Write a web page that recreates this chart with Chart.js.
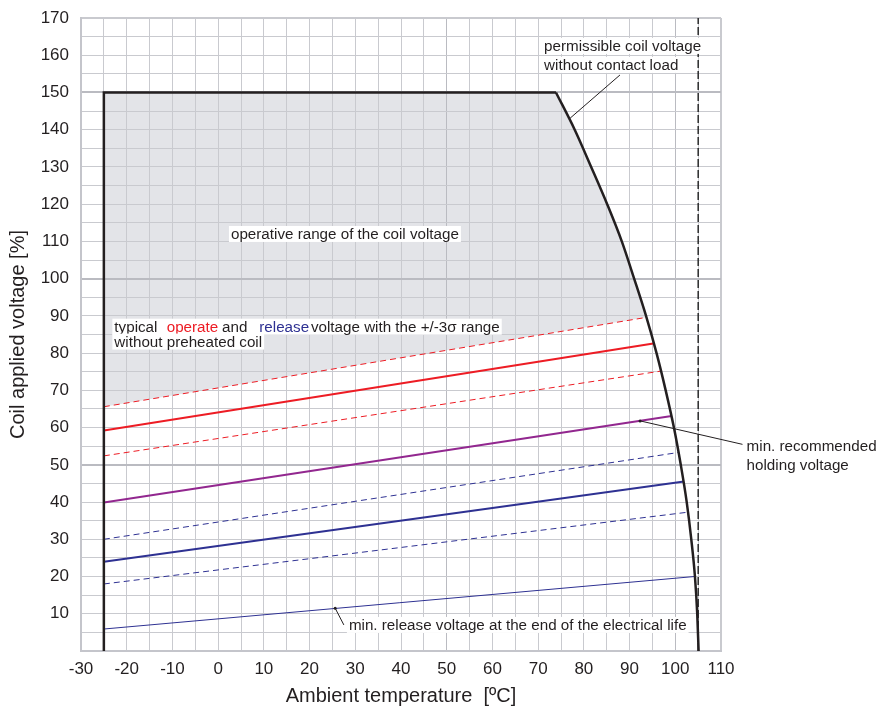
<!DOCTYPE html>
<html>
<head>
<meta charset="utf-8">
<script src="https://cdn.jsdelivr.net/npm/chart.js@4.4.1/dist/chart.umd.min.js"></script>
<style>
  html, body { margin: 0; padding: 0; background: #fff; }
</style>
</head>
<body>
<canvas id="coilChart" width="881" height="711"></canvas>
<script>
// values (x = ambient temp in C, y = coil voltage in %)
const envelopeStart = [[-25, 0], [-25, 150], [73.9, 150]];
const permissibleCurve = [
  [73.9, 150], [78.0, 140], [81.6, 130], [85.1, 120], [88.3, 110], [91.0, 100],
  [93.6, 90], [95.9, 80], [97.9, 70], [99.7, 60], [101.2, 50], [102.5, 40],
  [103.5, 30], [104.3, 20], [104.8, 10], [105.1, 0]
];
const operateUpper = [[-25, 65.6], [93.7, 89.6]];
const operateTyp = [[-25, 59.2], [95.2, 82.6]];
const operateLower = [[-25, 52.4], [97.0, 75.2]];
const holdingMin = [[-25, 39.9], [99.2, 63.1]];
const releaseUpper = [[-25, 30.0], [100.6, 53.3]];
const releaseTyp = [[-25, 24.0], [101.9, 45.5]];
const releaseLower = [[-25, 18.0], [102.9, 37.3]];
const releaseEndOfLife = [[-25, 5.9], [104.2, 20.0]];
const maxTemp = [[105, 0], [105, 170]];

// leader lines for the notes
const leaderPermissible = [[87.9, 154.7], [77.0, 143.1]];
const leaderHolding = [[92.3, 61.8], [114.7, 55.5]];
const leaderEndOfLife = [[25.6, 11.5], [27.5, 7.0]];

// note text, anchored in data coordinates
const notes = [
  { y: 162.5, box: true, parts: [[71.3, 'permissible coil voltage', '#231f20']] },
  { y: 157.4, box: true, parts: [[71.3, 'without contact load', '#231f20']] },
  { y: 112.0, box: true, parts: [[2.8, 'operative range of the coil voltage', '#231f20']] },
  { y: 87.1, box: true, parts: [
      [-22.7, 'typical', '#231f20'], [-11.25, 'operate', '#ed1c24'], [0.85, 'and', '#231f20'],
      [9.0, 'release', '#2e3192'], [20.3, 'voltage with the +/-3\u03c3 range', '#231f20']] },
  { y: 83.1, box: true, parts: [[-22.7, 'without preheated coil', '#231f20']] },
  { y: 55.0, box: false, parts: [[115.6, 'min. recommended', '#231f20']] },
  { y: 49.9, box: false, parts: [[115.6, 'holding voltage', '#231f20']] },
  { y: 7.0, box: true, parts: [[28.6, 'min. release voltage at the end of the electrical life', '#231f20']] }
];

const ink = '#231f20';
const red = '#ed1c24';
const purple = '#92278f';
const blue = '#2e3192';
const FONT = '"Liberation Sans", Arial, Helvetica, sans-serif';

const pts = arr => arr.map(p => ({ x: p[0], y: p[1] }));

function line(data, color, width, dash, extra) {
  return Object.assign({
    data: pts(data),
    borderColor: color,
    borderWidth: width,
    borderDash: dash || [],
    pointRadius: 0,
    fill: false,
    tension: 0
  }, extra || {});
}

const notePlugin = {
  id: 'notes',
  afterDatasetsDraw(chart) {
    const ctx = chart.ctx;
    const xs = chart.scales.x, ys = chart.scales.y;
    ctx.save();
    ctx.font = '15.2px ' + FONT;
    ctx.textBaseline = 'middle';
    ctx.textAlign = 'left';
    notes.forEach(n => {
      const py = ys.getPixelForValue(n.y);
      if (n.box) {
        const first = xs.getPixelForValue(n.parts[0][0]);
        const last = n.parts[n.parts.length - 1];
        const end = xs.getPixelForValue(last[0]) + ctx.measureText(last[1]).width;
        ctx.fillStyle = '#fff';
        ctx.fillRect(first - 2, py - 8, end - first + 4, 16);
      }
      n.parts.forEach(p => {
        ctx.fillStyle = p[2];
        ctx.fillText(p[1], xs.getPixelForValue(p[0]), py + 1);
      });
    });
    ctx.restore();
  }
};

const gridColor = v => (v !== 0 && v % 50 === 0) ? '#babbc1' : '#c9cacf';
const gridWidth = v => (v !== 0 && v % 50 === 0) ? 2 : 1;

new Chart(document.getElementById('coilChart'), {
  type: 'line',
  data: {
    datasets: [
      line(envelopeStart, ink, 2.5, null, { borderJoinStyle: 'miter' }),
      line(permissibleCurve, ink, 2.5, null, { cubicInterpolationMode: 'monotone' }),
      line(leaderPermissible, ink, 1),
      line(leaderHolding, ink, 1, null, { clip: false, pointRadius: c => c.dataIndex === 0 ? 1.5 : 0, pointBackgroundColor: ink, pointBorderWidth: 0 }),
      line(leaderEndOfLife, ink, 1, null, { pointRadius: c => c.dataIndex === 0 ? 1.5 : 0, pointBackgroundColor: ink, pointBorderWidth: 0 }),
      line(maxTemp, '#000', 1.2, [8, 3]),
      line(operateTyp, red, 2),
      line(operateUpper, red, 1, [6, 4]),
      line(operateLower, red, 1, [6, 4]),
      line(holdingMin, purple, 2),
      line(releaseTyp, blue, 2),
      line(releaseUpper, blue, 1, [6, 4]),
      line(releaseLower, blue, 1, [6, 4]),
      line(releaseEndOfLife, blue, 1),
      // operative range: grey area between the envelope and the upper operate limit
      line(envelopeStart.slice(1).concat(permissibleCurve.slice(1, 7)).concat([operateUpper[1], operateUpper[0], [-25, 150]]),
        'rgba(0,0,0,0)', 0, null, { fill: 'shape', backgroundColor: '#e3e4e8' })
    ]
  },
  options: {
    responsive: false,
    animation: false,
    layout: { padding: { left: 0, right: 160, top: 18, bottom: 0 } },
    plugins: {
      legend: { display: false },
      tooltip: { enabled: false },
      filler: { drawTime: 'beforeDraw' }
    },
    scales: {
      x: {
        type: 'linear',
        min: -30,
        max: 110,
        afterFit: s => { s.height = 60; },
        ticks: {
          stepSize: 5,
          autoSkip: false,
          maxRotation: 0,
          padding: 8,
          color: ink,
          font: { family: FONT, size: 17 },
          callback: v => v % 10 === 0 ? v : ''
        },
        grid: {
          drawTicks: false,
          color: c => gridColor(c.tick ? c.tick.value : 0),
          lineWidth: c => (c.tick && c.tick.value === 110) ? 2 : 1
        },
        border: { color: '#c4c5cb', width: 2 },
        title: {
          display: true,
          text: 'Ambient temperature  [\u00baC]',
          color: ink,
          font: { family: FONT, size: 20 },
          padding: { top: 0, bottom: 3 }
        }
      },
      y: {
        type: 'linear',
        min: 0,
        max: 170,
        afterFit: s => { s.width = 81; s.paddingTop = 0; s.paddingBottom = 0; },
        ticks: {
          stepSize: 5,
          autoSkip: false,
          padding: 12,
          color: ink,
          font: { family: FONT, size: 17 },
          callback: v => (v !== 0 && v % 10 === 0) ? v : ''
        },
        grid: {
          drawTicks: false,
          color: c => gridColor(c.tick ? c.tick.value : 0),
          lineWidth: c => gridWidth(c.tick ? c.tick.value : 0) + ((c.tick && c.tick.value === 170) ? 1 : 0)
        },
        border: { color: '#c4c5cb', width: 2 },
        title: {
          display: true,
          text: 'Coil applied voltage [%]',
          color: ink,
          font: { family: FONT, size: 20 },
          padding: { top: 6, bottom: 0 }
        }
      }
    }
  },
  plugins: [notePlugin]
});
</script>
</body>
</html>
